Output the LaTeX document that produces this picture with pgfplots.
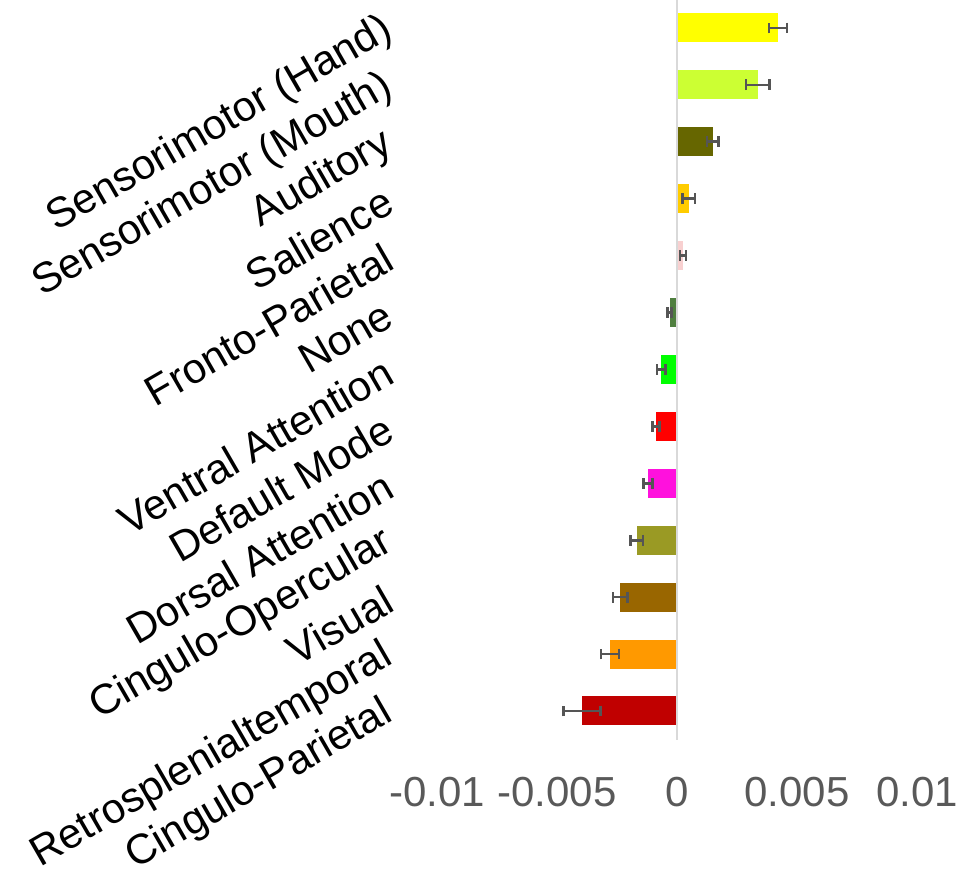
\documentclass[border=0pt]{standalone}
\usepackage{pgfplots}
\pgfplotsset{compat=1.18}
\usepackage{fontspec}
\setmainfont{Liberation Sans}
\definecolor{c1}{HTML}{FFFF00}
\definecolor{c2}{HTML}{CCFF33}
\definecolor{c3}{HTML}{666600}
\definecolor{c4}{HTML}{FFCC00}
\definecolor{c5}{HTML}{F8D0D0}
\definecolor{c6}{HTML}{4F7F3F}
\definecolor{c7}{HTML}{00FF00}
\definecolor{c8}{HTML}{FF0000}
\definecolor{c9}{HTML}{FF11DD}
\definecolor{c10}{HTML}{9A9A24}
\definecolor{c11}{HTML}{996600}
\definecolor{c12}{HTML}{FF9900}
\definecolor{c13}{HTML}{C00000}
\definecolor{tickgray}{HTML}{595959}
\definecolor{errgray}{HTML}{555555}
\definecolor{zerogray}{HTML}{D9D9D9}
\begin{document}
\begin{tikzpicture}
\useasboundingbox (0,0) rectangle (479.5pt,-442pt);
\begin{axis}[
  at={(218.5pt,0pt)}, anchor=north west,
  scale only axis, width=240pt, height=370pt,
  xmin=-0.01, xmax=0.01, ymin=-0.49, ymax=12.51,
  y dir=reverse,
  scaled x ticks=false,
  axis line style={draw=none},
  major tick length=0pt,
  xtick={-0.01,-0.005,0,0.005,0.01},
  xticklabels={-0.01,-0.005,0,0.005,0.01},
  xticklabel style={font=\fontsize{21}{25}\selectfont, text=tickgray, yshift=-15pt},
  ytick={0,1,2,3,4,5,6,7,8,9,10,11,12},
  yticklabels={Sensorimotor (Hand),Sensorimotor (Mouth),Auditory,Salience,Fronto-Parietal,None,Ventral Attention,Default Mode,Dorsal Attention,Cingulo-Opercular,Visual,Retrosplenialtemporal,Cingulo-Parietal},
  yticklabel style={font=\fontsize{21}{25}\selectfont, text=black, xshift=-21pt, yshift=2pt, rotate=30, anchor=east},
  clip=false,
  bar width=14.5pt,
  every axis plot/.append style={xbar, bar shift=0pt, draw=none,
    /pgfplots/error bars/x dir=both,
    /pgfplots/error bars/x explicit,
    /pgfplots/error bars/error bar style={line width=1.3pt, color=errgray},
    /pgfplots/error bars/error mark options={rotate=90, mark size=2.7pt, line width=1.3pt, color=errgray}},
]
\addplot[fill=c1]  coordinates {(0.00421,0) +- (0.00038,0)};
\addplot[fill=c2]  coordinates {(0.00336,1) +- (0.00049,0)};
\addplot[fill=c3]  coordinates {(0.00149,2) +- (0.00024,0)};
\addplot[fill=c4]  coordinates {(0.00049,3) +- (0.00026,0)};
\addplot[fill=c5]  coordinates {(0.00025,4) +- (0.00013,0)};
\addplot[fill=c6]  coordinates {(-0.00031,5) +- (0.00008,0)};
\addplot[fill=c7]  coordinates {(-0.00065,6) +- (0.00018,0)};
\addplot[fill=c8]  coordinates {(-0.00088,7) +- (0.00015,0)};
\addplot[fill=c9]  coordinates {(-0.00120,8) +- (0.00019,0)};
\addplot[fill=c10] coordinates {(-0.00168,9) +- (0.00026,0)};
\addplot[fill=c11] coordinates {(-0.00236,10) +- (0.00030,0)};
\addplot[fill=c12] coordinates {(-0.00279,11) +- (0.00038,0)};
\addplot[fill=c13] coordinates {(-0.00396,12) +- (0.00077,0)};
\draw[zerogray, line width=1pt] (axis cs:0,-0.49) -- (axis cs:0,12.51);
\end{axis}
\end{tikzpicture}
\end{document}
